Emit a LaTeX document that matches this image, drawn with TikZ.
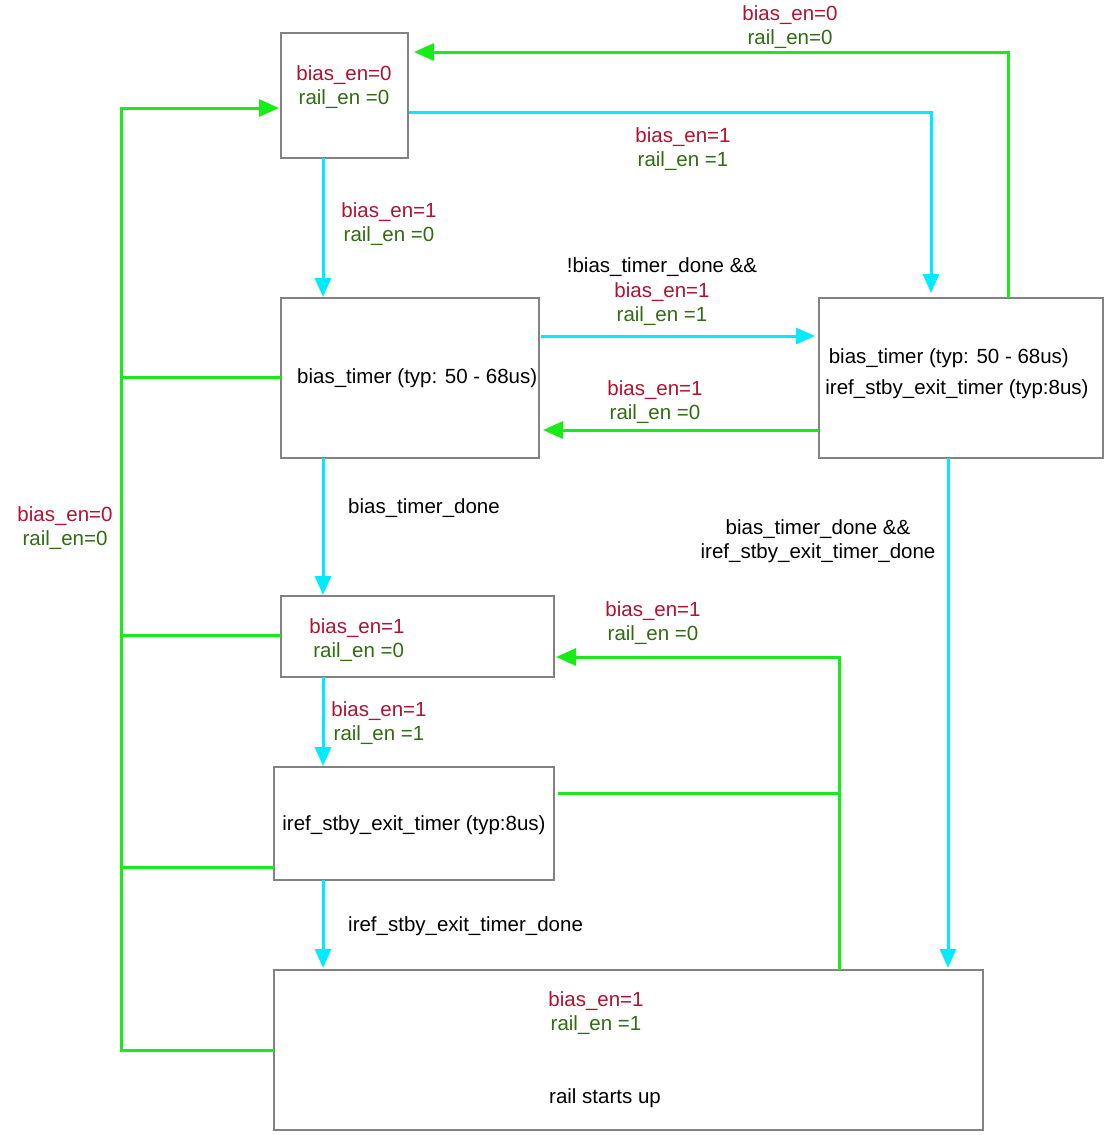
\documentclass[tikz,border=0pt]{standalone}
\usepackage{fontspec}
\setmainfont{Liberation Sans}
\usetikzlibrary{arrows.meta}
\definecolor{redtxt}{RGB}{178,18,48}
\definecolor{greentxt}{RGB}{48,108,18}
\definecolor{cyanline}{RGB}{0,235,255}
\definecolor{greenline}{RGB}{25,235,25}
\definecolor{boxgray}{RGB}{130,130,130}
\newcommand{\rtx}[1]{\textcolor{redtxt}{#1}}
\newcommand{\gtx}[1]{\textcolor{greentxt}{#1}}
\begin{document}
\begin{tikzpicture}[x=1pt,y=-1pt,
  every node/.style={font=\fontsize{20.5}{24.5}\selectfont},
  statebox/.style={draw=boxgray,line width=1.3pt,fill=none,inner sep=0pt,outer sep=0pt,anchor=north west},
  lbl/.style={align=center,inner sep=0pt},
  cyanarrow/.style={draw=cyanline,line width=3pt,-{Triangle[length=19pt,width=16pt]}},
  greenarrow/.style={draw=greenline,line width=3pt,-{Triangle[length=20pt,width=17pt]}},
  greenwire/.style={draw=greenline,line width=3pt}]
\useasboundingbox (0,0) rectangle (1110,1135);
% state boxes
\node[statebox,minimum width=127pt,minimum height=125pt] (A) at (281,33) {};
\node[statebox,minimum width=258pt,minimum height=160pt] (B) at (281,298) {};
\node[statebox,minimum width=284pt,minimum height=160pt] (C) at (819,298) {};
\node[statebox,minimum width=273pt,minimum height=81pt] (D) at (281,596) {};
\node[statebox,minimum width=280pt,minimum height=113pt] (E) at (274,767) {};
\node[statebox,minimum width=709pt,minimum height=160pt] (F) at (274,970) {};
% box texts
\node[lbl] (At) at (344,87) {\rtx{bias\_en=0}\\\gtx{rail\_en =0}};
\node[lbl,anchor=west] (Bt) at (297,378) {bias\_timer (typ: 50 - 68us)};
\node[lbl,align=left,font=\fontsize{20.5}{31}\selectfont] (Ct) at (957,374) {\,bias\_timer (typ: 50 - 68us)\\iref\_stby\_exit\_timer (typ:8us)};
\node[lbl] (Dt) at (357,640) {\rtx{bias\_en=1}\\\gtx{\,rail\_en =0}};
\node[lbl] (Et) at (414,825) {iref\_stby\_exit\_timer (typ:8us)};
\node[lbl] (Ft) at (596,1013) {\rtx{bias\_en=1}\\\gtx{rail\_en =1}};
\node[lbl] (Fs) at (605,1098) {rail starts up};
% x positions
\coordinate (xl) at (323,0);
\coordinate (xc) at (931,0);
\coordinate (xf) at (948,0);
\coordinate (xg) at (1008,0);
\coordinate (xd) at (839,0);
\coordinate (xb) at (121,0);
% cyan connectors
\draw[cyanarrow] (A.south -| xl) -- ([yshift=1pt]B.north -| xl);
\draw[cyanarrow] ([xshift=1pt]A.east |- 0,112) -| ([yshift=5pt]C.north -| xc);
\draw[cyanarrow] ([xshift=2pt]B.east |- 0,336) -- ([xshift=-4pt]C.west |- 0,336);
\draw[cyanarrow] (B.south -| xl) -- ([yshift=1pt]D.north -| xl);
\draw[cyanarrow] (D.south -| xl) -- ([yshift=1pt]E.north -| xl);
\draw[cyanarrow] (E.south -| xl) -- ([yshift=2pt]F.north -| xl);
\draw[cyanarrow] (C.south -| xf) -- ([yshift=2pt]F.north -| xf);
% green connectors
\draw[greenarrow] (C.north -| xg) |- ([xshift=6pt]A.east |- 0,52);
\draw[greenarrow] (C.west |- 0,430) -- ([xshift=4pt]B.east |- 0,430);
\draw[greenarrow] (F.north -| xd) |- ([xshift=2pt]D.east |- 0,657);
\draw[greenwire] ([xshift=4pt]E.east |- 0,793) -- (xd |- 0,793);
\draw[greenarrow] (F.west |- 0,1050) -| (xb |- 0,108) -- ([xshift=-2pt]A.west |- 0,108);
\draw[greenwire] (B.west |- 0,377) -- (xb |- 0,377);
\draw[greenwire] (D.west |- 0,635) -- (xb |- 0,635);
\draw[greenwire] (E.west |- 0,867) -- (xb |- 0,867);
% connector labels
\node[lbl] (L1) at (389,224) {\rtx{bias\_en=1}\\\gtx{rail\_en =0}};
\node[lbl] (L2) at (683,149) {\rtx{bias\_en=1}\\\gtx{rail\_en =1}};
\node[lbl] (L3) at (662,292) {!bias\_timer\_done \&\&\\\rtx{bias\_en=1}\\\gtx{rail\_en =1}};
\node[lbl] (L4) at (655,402) {\rtx{bias\_en=1}\\\gtx{rail\_en =0}};
\node[lbl,anchor=west] (L5) at (348,508) {bias\_timer\_done};
\node[lbl] (L6) at (379,723) {\rtx{bias\_en=1}\\\gtx{rail\_en =1}};
\node[lbl,anchor=west] (L7) at (348,926) {iref\_stby\_exit\_timer\_done};
\node[lbl] (L8) at (818,541) {bias\_timer\_done \&\&\\iref\_stby\_exit\_timer\_done};
\node[lbl] (L9) at (790,27) {\rtx{bias\_en=0}\\\gtx{rail\_en=0}};
\node[lbl] (L10) at (653,623) {\rtx{bias\_en=1}\\\gtx{rail\_en =0}};
\node[lbl] (L11) at (65,528) {\rtx{bias\_en=0}\\\gtx{rail\_en=0}};
\end{tikzpicture}
\end{document}
